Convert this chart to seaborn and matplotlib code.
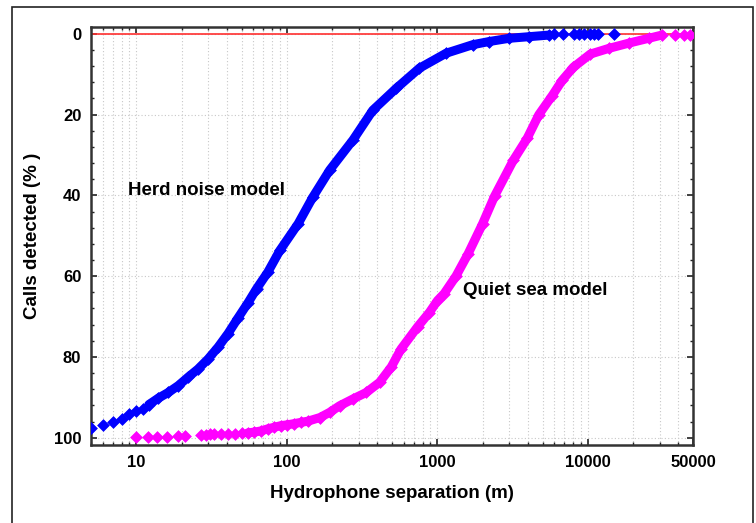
import numpy as np
import pandas as pd
import matplotlib
matplotlib.use("Agg")
import matplotlib.pyplot as plt
import matplotlib.ticker as mticker
from matplotlib.patches import Rectangle
import seaborn as sns

# ---- data ----
herd_sep = [5, 6, 7, 8, 9, 10, 11,
            12.1, 14.0, 16.3, 19.0, 22.1, 25.7, 30.0, 34.9, 40.7, 47.3, 55.2, 63,
            74.8, 90, 119, 149, 193, 275, 373, 533,
            760, 1143, 1714, 2208, 3000, 4065, 5520,
            5960, 6860, 8070, 8710, 9410, 10420, 10960, 11700, 15000]
herd_pct = [97.7, 96.8, 96.2, 95.4, 94.1, 93.5, 92.8,
            91.8, 90.2, 88.8, 87.1, 85.0, 83.0, 80.5, 77.6, 74.2, 70.4, 66.6, 63.1,
            59.0, 53.6, 47.0, 40.4, 33.7, 26.3, 18.9, 13.5,
            8.5, 4.8, 2.7, 1.9, 1.1, 0.7, 0.3,
            0.0, 0.0, 0.0, 0.0, 0.0, 0.0, 0.0, 0.0, 0.0]
herd_dense = (7, 34)

quiet_sep = [10, 12, 13.8, 16, 19, 21, 27, 29, 31, 33, 36.5, 40.7, 45, 50,
             55, 61, 67.5, 74.7, 82.6, 91.5, 101, 112, 124, 138, 166, 193, 224,
             275, 337, 413, 494, 575, 741, 885, 1005, 1111, 1330, 1600, 2000, 2400,
             3200, 3950, 4730, 5800, 6760, 8000, 10400, 13780, 18700, 25360, 31060,
             38100, 43270, 47860]
quiet_pct = [99.9, 99.9, 99.9, 99.9, 99.5, 99.5, 99.3, 99.3, 99.2, 99.1, 99.1, 99.0, 99.0, 98.9,
             98.8, 98.6, 98.3, 97.8, 97.4, 97.0, 96.8, 96.5, 96.2, 95.9, 95.0, 93.7, 92.1,
             90.4, 88.8, 86.3, 82.5, 78.0, 72.5, 69.0, 66.0, 64.3, 60.0, 54.5, 47.0, 40.2,
             31.3, 25.9, 20.0, 15.3, 11.5, 8.3, 5.0, 3.6, 2.3, 1.1, 0.3,
             0.2, 0.2, 0.2]
quiet_dense = (14, 51)

x_ticks = [10, 100, 1000, 10000, 50000]
x_tick_labels = ["10", "100", "1000", "10000", "50000"]
y_ticks = [0, 20, 40, 60, 80, 100]

herd_color = "#0000ff"
quiet_color = "#ff00ff"

sns.set_style("white")
plt.rcParams["font.family"] = ["Liberation Sans", "DejaVu Sans"]
plt.rcParams["text.color"] = "black"
plt.rcParams["axes.labelcolor"] = "black"
plt.rcParams["xtick.color"] = "black"
plt.rcParams["ytick.color"] = "black"

fig = plt.figure(figsize=(7.56, 5.23), dpi=100)
ax = fig.add_axes([91 / 756, 1 - 445 / 523, (693 - 91) / 756, (445 - 27) / 523])

# outer frame
fig.patches.append(Rectangle((12 / 756, -0.02), (753 - 12) / 756, 1 - 7 / 523 + 0.02,
                             transform=fig.transFigure, fill=False,
                             edgecolor="#222222", linewidth=1.2))

ax.set_xscale("log")
ax.set_xlim(5, 50000)
ax.set_ylim(101.8, -1.7)

ax.grid(True, which="major", axis="both", color="#c8c8c8", linestyle=(0, (1, 2)), linewidth=0.8)
ax.grid(True, which="minor", axis="x", color="#c8c8c8", linestyle=(0, (1, 2)), linewidth=0.8)
ax.set_axisbelow(True)

ax.axhline(0, color="#ff3030", linewidth=1.2, zorder=2)

herd = pd.DataFrame({"sep": herd_sep, "pct": herd_pct})
quiet = pd.DataFrame({"sep": quiet_sep, "pct": quiet_pct})

hd = herd.iloc[herd_dense[0]:herd_dense[1]]
qd = quiet.iloc[quiet_dense[0]:quiet_dense[1]]
sns.lineplot(data=hd, x="sep", y="pct", sort=False, estimator=None, color=herd_color,
             linewidth=6.5, ax=ax, zorder=3)
sns.lineplot(data=qd, x="sep", y="pct", sort=False, estimator=None, color=quiet_color,
             linewidth=6.5, ax=ax, zorder=3)
sns.scatterplot(data=herd, x="sep", y="pct", marker="D", s=36, color=herd_color,
                edgecolor=herd_color, linewidth=0.5, ax=ax, zorder=4)
sns.scatterplot(data=quiet, x="sep", y="pct", marker="D", s=36, color=quiet_color,
                edgecolor=quiet_color, linewidth=0.5, ax=ax, zorder=4)

ax.set_xticks(x_ticks)
ax.set_xticklabels(x_tick_labels)
ax.xaxis.set_minor_locator(mticker.LogLocator(base=10, subs=np.arange(2, 10), numticks=20))
ax.xaxis.set_minor_formatter(mticker.NullFormatter())
ax.set_yticks(y_ticks)
ax.yaxis.set_minor_locator(mticker.MultipleLocator(4))

ax.tick_params(which="both", direction="in", top=True, right=True, bottom=True, left=True,
               color="#222222")
ax.tick_params(which="major", length=4, width=1.2, labelsize=12, pad=7)
ax.tick_params(which="minor", length=2.5, width=1.0)
for lab in ax.get_xticklabels() + ax.get_yticklabels():
    lab.set_fontweight("bold")

for sp in ax.spines.values():
    sp.set_color("#333333")
    sp.set_linewidth(1.8)

ax.set_xlabel("Hydrophone separation (m)", fontsize=13.5, fontweight="bold", labelpad=11)
ax.set_ylabel("Calls detected (% )", fontsize=13.5, fontweight="bold", labelpad=9)

ax.text(8.8, 38.8, "Herd noise model", fontsize=13.5, fontweight="bold", va="center", ha="left")
ax.text(1480, 63.5, "Quiet sea model", fontsize=13.5, fontweight="bold", va="center", ha="left")

fig.savefig("out.png", dpi=100)
